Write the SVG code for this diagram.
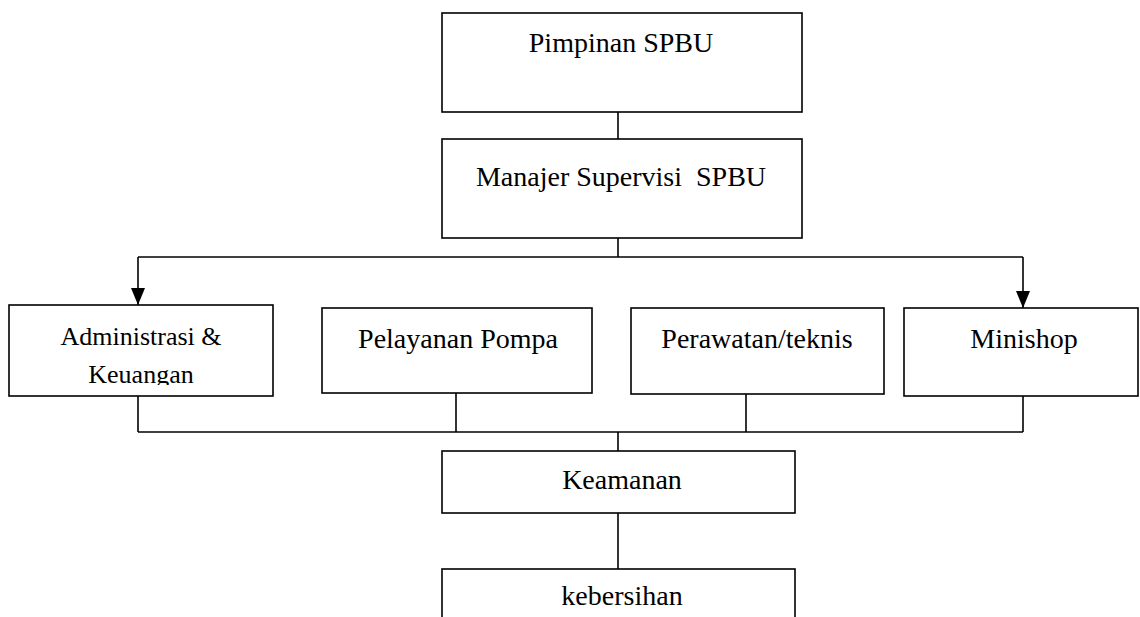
<svg xmlns="http://www.w3.org/2000/svg" width="1140" height="617" viewBox="0 0 1140 617">
<style>
.box{fill:#fff;stroke:#000;stroke-width:1.6}
.t{font-family:"Liberation Serif","Times New Roman",serif;font-size:28px;fill:#000;text-anchor:middle}
.c{fill:none;stroke:#000;stroke-width:1.6}
</style>
<defs>
<marker id="arr" viewBox="0 0 17 14" refX="17" refY="7" markerWidth="17" markerHeight="14" markerUnits="userSpaceOnUse" orient="auto">
<path d="M0,0 L17,7 L0,14 Z" fill="#000"/>
</marker>
<clipPath id="clipAdmin"><rect x="9" y="305" width="264" height="80"/></clipPath>
</defs>
<g id="connectors">
<line class="c" x1="618" y1="112" x2="618" y2="139"/>
<line class="c" x1="618" y1="238" x2="618" y2="257"/>
<line class="c" x1="138" y1="257" x2="1023" y2="257"/>
<line class="c" x1="138" y1="257" x2="138" y2="305" marker-end="url(#arr)"/>
<line class="c" x1="1023" y1="257" x2="1023" y2="308" marker-end="url(#arr)"/>
<line class="c" x1="138" y1="396" x2="138" y2="432"/>
<line class="c" x1="456" y1="393" x2="456" y2="432"/>
<line class="c" x1="746" y1="394" x2="746" y2="432"/>
<line class="c" x1="1023" y1="396" x2="1023" y2="432"/>
<line class="c" x1="138" y1="432" x2="1023" y2="432"/>
<line class="c" x1="618" y1="432" x2="618" y2="451"/>
<line class="c" x1="618" y1="513" x2="618" y2="569"/>
</g>
<g id="pimpinan">
<rect class="box" x="442" y="13" width="360" height="99"/>
<text class="t" x="621" y="52">Pimpinan SPBU</text>
</g>
<g id="manajer">
<rect class="box" x="442" y="139" width="360" height="99"/>
<text class="t" x="621" y="186" xml:space="preserve">Manajer Supervisi  SPBU</text>
</g>
<g id="administrasi">
<rect class="box" x="9" y="305" width="264" height="91"/>
<g clip-path="url(#clipAdmin)">
<text class="t" x="141" y="345" style="font-size:26px">Administrasi &amp;</text>
<text class="t" x="141" y="383" style="font-size:26px">Keuangan</text>
</g>
</g>
<g id="pelayanan">
<rect class="box" x="322" y="308" width="270" height="85"/>
<text class="t" x="458" y="348">Pelayanan Pompa</text>
</g>
<g id="perawatan">
<rect class="box" x="631" y="308" width="253" height="86"/>
<text class="t" x="757" y="348">Perawatan/teknis</text>
</g>
<g id="minishop">
<rect class="box" x="904" y="308" width="234" height="88"/>
<text class="t" x="1024" y="348">Minishop</text>
</g>
<g id="keamanan">
<rect class="box" x="442" y="451" width="353" height="62"/>
<text class="t" x="622" y="489">Keamanan</text>
</g>
<g id="kebersihan">
<rect class="box" x="442" y="569" width="353" height="60"/>
<text class="t" x="622" y="605">kebersihan</text>
</g>
</svg>
